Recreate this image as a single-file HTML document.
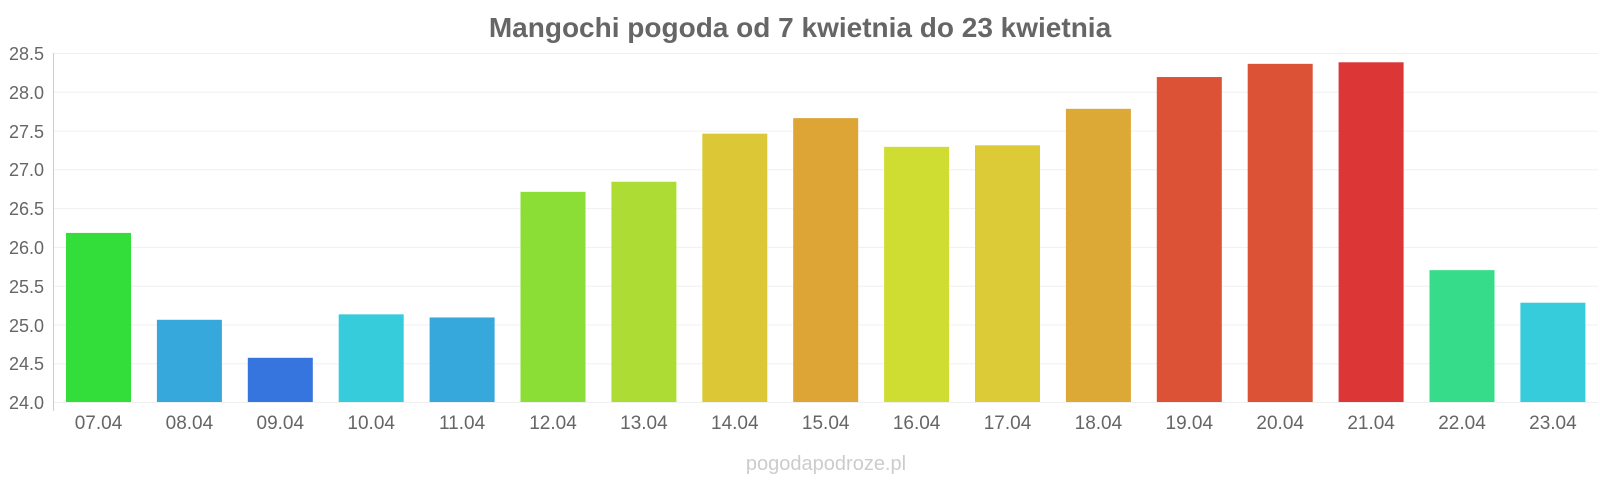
<!DOCTYPE html>
<html><head><meta charset="utf-8"><style>
html,body{margin:0;padding:0;background:#fff;}
svg{display:block;font-family:"Liberation Sans",sans-serif;}
</style></head><body>
<svg width="1600" height="480" viewBox="0 0 1600 480" xmlns="http://www.w3.org/2000/svg">
<text x="800" y="37" text-anchor="middle" font-size="28" font-weight="bold" fill="#666">Mangochi pogoda od 7 kwietnia do 23 kwietnia</text>
<g stroke="#f0f0f0" stroke-width="1">
<line x1="53" x2="1598" y1="53.5" y2="53.5"/><line x1="53" x2="1598" y1="92.3" y2="92.3"/>
<line x1="53" x2="1598" y1="131.1" y2="131.1"/><line x1="53" x2="1598" y1="169.8" y2="169.8"/>
<line x1="53" x2="1598" y1="208.6" y2="208.6"/><line x1="53" x2="1598" y1="247.4" y2="247.4"/>
<line x1="53" x2="1598" y1="286.2" y2="286.2"/><line x1="53" x2="1598" y1="325" y2="325"/>
<line x1="53" x2="1598" y1="363.7" y2="363.7"/><line x1="53" x2="1598" y1="402.5" y2="402.5"/>
</g>
<line x1="53.5" x2="53.5" y1="53" y2="411" stroke="#ccc"/>
<g font-size="18" fill="#666" text-anchor="end">
<text x="44" y="60">28.5</text><text x="44" y="99">28.0</text><text x="44" y="138">27.5</text>
<text x="44" y="176">27.0</text><text x="44" y="215">26.5</text><text x="44" y="254">26.0</text>
<text x="44" y="293">25.5</text><text x="44" y="332">25.0</text><text x="44" y="370">24.5</text>
<text x="44" y="409">24.0</text>
</g>
<g id="bars"></g>
<g id="labels" font-size="19" fill="#666" text-anchor="middle"></g>
<text x="826" y="470" text-anchor="middle" font-size="20" fill="#ccc">pogodapodroze.pl</text>
<script>
var v=[26.18,25.06,24.57,25.13,25.09,26.71,26.84,27.46,27.66,27.29,27.31,27.78,28.19,28.36,28.38,25.70,25.28];
var c=["#33dd3a","#36a8dc","#3575dd","#36ccdc","#36a8dc","#8ade36","#addd34","#dcc836","#dca536","#cfdd32","#dccb36","#dca836","#dc5236","#dc5236","#dc3636","#36dc8a","#36ccdc"];
var ns="http://www.w3.org/2000/svg",b=document.getElementById("bars"),l=document.getElementById("labels");
for(var i=0;i<17;i++){var x=66+i*90.9,y=402-(v[i]-24)*77.56;
var r=document.createElementNS(ns,"rect");r.setAttribute("x",x);r.setAttribute("y",y);r.setAttribute("width",65);r.setAttribute("height",402-y);r.setAttribute("fill",c[i]);b.appendChild(r);
var t=document.createElementNS(ns,"text");t.setAttribute("x",x+32.5);t.setAttribute("y",429);t.textContent=(i+7<10?"0":"")+(i+7)+".04";l.appendChild(t);}
</script>
</svg>
</body></html>
